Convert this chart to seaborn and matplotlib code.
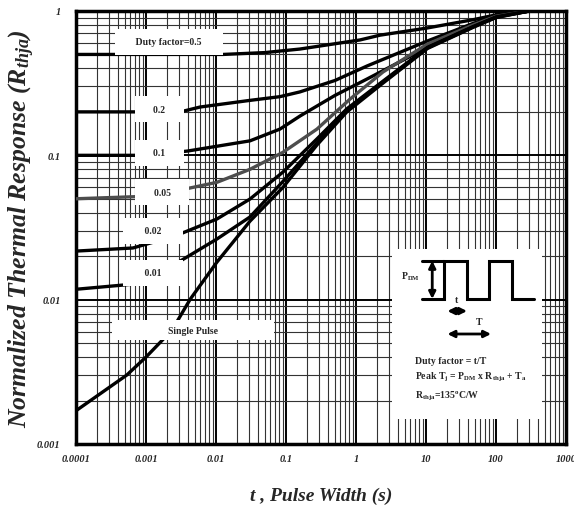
import numpy as np
import pandas as pd
import seaborn as sns
import matplotlib.pyplot as plt
from matplotlib.patches import Rectangle
from matplotlib.ticker import LogLocator, NullFormatter

# values (pulse width t in s, normalized response r)
t_d50 = [1e-4, 1e-3, 0.0126, 0.05, 0.158, 1.14, 2.2, 10, 47, 100, 300]
r_d50 = [0.5, 0.5, 0.5, 0.515, 0.545, 0.63, 0.68, 0.76, 0.87, 0.94, 1.0]

t_d20 = [1e-4, 1e-3, 0.0031, 0.0059, 0.03, 0.082, 0.158, 0.5, 1.44, 10.5, 47, 100, 300]
r_d20 = [0.2, 0.2, 0.2, 0.216, 0.24, 0.255, 0.275, 0.33, 0.416, 0.62, 0.82, 0.93, 1.0]

t_d10 = [1e-4, 1e-3, 0.0039, 0.0306, 0.082, 0.158, 0.5, 1.44, 10.5, 47, 100, 300]
r_d10 = [0.1, 0.1, 0.107, 0.126, 0.152, 0.187, 0.26, 0.338, 0.56, 0.8, 0.92, 1.0]

t_d05 = [1e-4, 1e-3, 0.0031, 0.0103, 0.0306, 0.0906, 0.277, 0.82, 2.43, 10.5, 47, 100, 300]
r_d05 = [0.05, 0.052, 0.0575, 0.065, 0.080, 0.105, 0.152, 0.245, 0.378, 0.59, 0.8, 0.92, 1.0]

t_d02 = [1e-4, 6.5e-4, 0.0026, 0.0103, 0.0306, 0.0906, 0.277, 0.74, 2.3, 10.5, 47, 100, 300]
r_d02 = [0.0217, 0.0228, 0.0276, 0.0362, 0.0498, 0.0766, 0.13, 0.21, 0.32, 0.56, 0.78, 0.91, 1.0]

t_d01 = [1e-4, 6.5e-4, 0.00235, 0.0103, 0.0306, 0.0906, 0.277, 0.74, 2.3, 10.5, 47, 100, 300]
r_d01 = [0.0118, 0.0128, 0.0171, 0.0263, 0.0374, 0.066, 0.122, 0.205, 0.315, 0.555, 0.775, 0.905, 1.0]

t_single = [1e-4, 5.3e-4, 1e-3, 1.75e-3, 2.8e-3, 4.3e-3, 0.0103, 0.0306, 0.0906, 0.277, 0.74, 2.3,
            10.5, 47, 100, 300]
r_single = [0.0017, 0.0030, 0.0040, 0.0053, 0.0071, 0.0101, 0.0182, 0.035, 0.060, 0.118, 0.20, 0.31,
            0.55, 0.77, 0.90, 1.0]

x_ticks = [1e-4, 1e-3, 1e-2, 1e-1, 1, 10, 100, 1000]
x_tick_labels = ["0.0001", "0.001", "0.01", "0.1", "1", "10", "100", "1000"]
y_ticks = [1e-3, 1e-2, 1e-1, 1]
y_tick_labels = ["0.001", "0.01", "0.1", "1"]

curves = {
    "0.5": (t_d50, r_d50),
    "0.2": (t_d20, r_d20),
    "0.1": (t_d10, r_d10),
    "0.05": (t_d05, r_d05),
    "0.02": (t_d02, r_d02),
    "0.01": (t_d01, r_d01),
    "single": (t_single, r_single),
}

rows = []
for name, (ts, rs) in curves.items():
    for t, r in zip(ts, rs):
        rows.append({"t": t, "r": r, "curve": name})
df = pd.DataFrame(rows)

palette = {k: "black" for k in curves}
palette["0.05"] = "#4d4d4d"

sns.set_style("white")
plt.rcParams["font.family"] = ["Liberation Serif", "DejaVu Serif"]
plt.rcParams["font.weight"] = "bold"
plt.rcParams["mathtext.fontset"] = "custom"
plt.rcParams["mathtext.rm"] = "Liberation Serif:bold"
plt.rcParams["mathtext.it"] = "Liberation Serif:italic:bold"
plt.rcParams["mathtext.bf"] = "Liberation Serif:bold"

fig = plt.figure(figsize=(5.74, 5.06), dpi=100)
ax = fig.add_axes([0.1324, 0.1206, 0.8537, 0.8557])

sns.lineplot(data=df, x="t", y="r", hue="curve", palette=palette, estimator=None,
             sort=False, linewidth=2.4, legend=False, ax=ax, zorder=3)

ax.set_xscale("log")
ax.set_yscale("log")
ax.set_xlim(1e-4, 1e3)
ax.set_ylim(1e-3, 1)

# dense log grid like the datasheet
ax.xaxis.set_minor_locator(LogLocator(base=10, subs=np.arange(2, 10)))
ax.yaxis.set_minor_locator(LogLocator(base=10, subs=np.arange(2, 10)))
ax.xaxis.set_minor_formatter(NullFormatter())
ax.yaxis.set_minor_formatter(NullFormatter())
ax.grid(which="major", color="black", linewidth=1.4)
ax.grid(which="minor", color="0.2", linewidth=0.8)
ax.set_axisbelow(True)

ax.set_xticks(x_ticks)
ax.set_xticklabels(x_tick_labels, fontstyle="italic", fontweight="bold", fontsize=7.5)
ax.set_yticks(y_ticks)
ax.set_yticklabels(y_tick_labels, fontstyle="italic", fontweight="bold", fontsize=7.5)
ax.tick_params(which="both", length=0)
ax.tick_params(axis="x", pad=7)
ax.tick_params(axis="y", pad=11)

for sp in ax.spines.values():
    sp.set_linewidth(2.5)
    sp.set_color("black")

ax.set_xlabel("t , Pulse Width (s)", fontsize=14, fontstyle="italic", fontweight="bold", labelpad=17)
ax.set_ylabel(r"Normalized Thermal Response ($R_{thja}$)", fontsize=18.5,
              fontstyle="italic", fontweight="bold", labelpad=0)

# curve labels with white boxes
box = dict(facecolor="white", edgecolor="none", boxstyle="square,pad=0.9")
lab_kw = dict(fontsize=7, fontweight="bold", ha="center", va="center", zorder=4)
ax.text(0.00213, 0.61, "     Duty factor=0.5     ", bbox=box, **lab_kw)
ax.text(0.00155, 0.209, "    0.2    ", bbox=box, **lab_kw)
ax.text(0.00155, 0.104, "    0.1    ", bbox=box, **lab_kw)
ax.text(0.0017, 0.0557, "    0.05    ", bbox=box, **lab_kw)
ax.text(0.00126, 0.0299, "     0.02     ", bbox=box, **lab_kw)
ax.text(0.00126, 0.0153, "     0.01     ", bbox=box, **lab_kw)
ax.text(0.0047, 0.00615, "                    Single Pulse                    ",
        bbox=dict(facecolor="white", edgecolor="none", boxstyle="square,pad=0.6"), **lab_kw)

# inset with the pulse diagram
ax.add_patch(Rectangle((0.644, 0.058), 0.307, 0.392, transform=ax.transAxes,
                       facecolor="white", edgecolor="none", zorder=5))
wave_x = [0.707, 0.752, 0.752, 0.798, 0.798, 0.843, 0.843, 0.890, 0.890, 0.935]
wave_y = [0.335, 0.335, 0.423, 0.423, 0.335, 0.335, 0.423, 0.423, 0.335, 0.335]
ax.plot(wave_x, wave_y, color="black", lw=2.2, transform=ax.transAxes, zorder=6,
        solid_joinstyle="miter")
ax.plot([0.707, 0.752], [0.423, 0.423], color="black", lw=2.2, transform=ax.transAxes, zorder=6)
arrow = dict(arrowstyle="<|-|>", color="black", lw=2.0, mutation_scale=10, shrinkA=0, shrinkB=0)
ax.annotate("", xy=(0.727, 0.423), xytext=(0.727, 0.335), xycoords="axes fraction",
            arrowprops=arrow, zorder=6)
ax.annotate("", xy=(0.758, 0.307), xytext=(0.798, 0.307), xycoords="axes fraction",
            arrowprops=arrow, zorder=6)
ax.annotate("", xy=(0.758, 0.254), xytext=(0.847, 0.254), xycoords="axes fraction",
            arrowprops=arrow, zorder=6)

in_kw = dict(transform=ax.transAxes, fontsize=7, fontweight="bold", zorder=7)
ax.text(0.703, 0.388, r"P$_\mathrm{DM}$", ha="right", va="center", **in_kw)
ax.text(0.776, 0.333, "t", ha="center", va="center", **in_kw)
ax.text(0.823, 0.284, "T", ha="center", va="center", **in_kw)
ax.text(0.692, 0.192, "Duty factor = t/T", ha="left", va="center", **in_kw)
ax.text(0.692, 0.157, r"Peak T$_\mathrm{j}$ = P$_\mathrm{DM}$ x R$_\mathrm{thja}$ + T$_\mathrm{a}$",
        ha="left", va="center", **in_kw)
ax.text(0.692, 0.111, r"R$_\mathrm{thja}$=135$^\mathrm{o}$C/W", ha="left", va="center", **in_kw)

fig.savefig("out.png", dpi=100, facecolor="white")
